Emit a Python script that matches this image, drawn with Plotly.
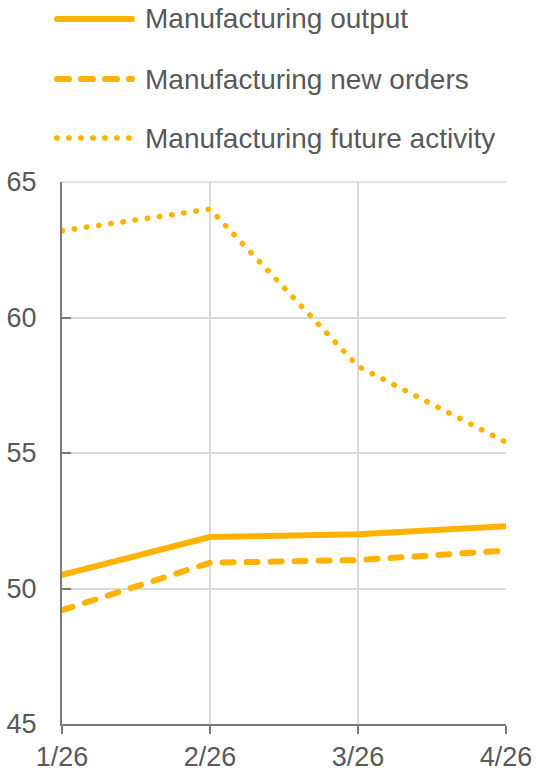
import plotly.graph_objects as go

# Monthly survey readings (index level)
months = ["1/26", "2/26", "3/26", "4/26"]
mfg_output = [50.5, 51.9, 52.0, 52.3]
mfg_new_orders = [49.2, 50.95, 51.05, 51.4]
mfg_future_activity = [63.2, 64.0, 58.2, 55.4]
series_names = [
    "Manufacturing output",
    "Manufacturing new orders",
    "Manufacturing future activity",
]
y_ticks = [45, 50, 55, 60, 65]

AMBER = "#FFB300"
TEXT = "#595959"
GRID = "#D9D9D9"
AXIS = "#7A7A7A"
FONT = "Liberation Sans, Arial, sans-serif"

W, H = 539, 771
L, R, T, B = 62, 33, 182, 47
PW, PH = W - L - R, H - T - B

styles = [
    dict(width=6, dash="solid"),
    dict(width=6, dash="11px,13px"),
    dict(width=5.5, dash="0.5px,11.8px"),
]
values = [mfg_output, mfg_new_orders, mfg_future_activity]

fig = go.Figure()
for name, vals, st in zip(series_names, values, styles):
    fig.add_trace(go.Scatter(
        x=months, y=vals, name=name, mode="lines",
        line=dict(color=AMBER, width=st["width"], dash=st["dash"]),
        showlegend=False, hoverinfo="skip",
    ))

# Legend drawn above the plot: sample line + label per series
def px_to_paper_x(px):
    return (px - L) / PW

def px_to_paper_y(py):
    return (T + PH - py) / PH

legend_rows = [19, 79, 138]
legend_samples = [
    (57, 132, dict(width=6, dash="solid")),
    (57, 132, dict(width=6, dash="12px,12px")),
    (56.7, 129.5, dict(width=5.5, dash="0.5px,11.5px")),
]
for name, row, (x0, x1, st) in zip(series_names, legend_rows, legend_samples):
    yy = px_to_paper_y(row)
    fig.add_shape(type="line", xref="paper", yref="paper",
                  x0=px_to_paper_x(x0), x1=px_to_paper_x(x1), y0=yy, y1=yy,
                  line=dict(color=AMBER, width=st["width"], dash=st["dash"]))
    fig.add_annotation(xref="paper", yref="paper", x=px_to_paper_x(143), y=yy,
                       xanchor="left", yanchor="middle", text=name, showarrow=False,
                       font=dict(size=28, color=TEXT, family=FONT))

# light frame line along the top of the plot area
fig.add_shape(type="line", xref="paper", yref="paper", x0=0, x1=1, y0=1, y1=1,
              line=dict(color=GRID, width=1.5), layer="below")

fig.update_layout(
    width=W, height=H,
    margin=dict(l=L, r=R, t=T, b=B, pad=0, autoexpand=False),
    paper_bgcolor="white", plot_bgcolor="white",
    font=dict(family=FONT, color=TEXT, size=27),
    showlegend=False,
)
fig.update_xaxes(
    type="category", range=[0, 3], automargin=False,
    showgrid=True, gridcolor=GRID, gridwidth=1.5,
    showline=True, linecolor=AXIS, linewidth=2,
    ticks="outside", ticklen=8, tickwidth=2, tickcolor=AXIS,
    tickfont=dict(size=27, color=TEXT, family=FONT),
    ticklabelstandoff=0,
)
fig.update_yaxes(
    range=[45, 65], tickvals=y_ticks, automargin=False,
    showgrid=True, gridcolor=GRID, gridwidth=1.5,
    showline=True, linecolor=AXIS, linewidth=2,
    ticks="inside", ticklen=9, tickwidth=2, tickcolor=AXIS,
    tickfont=dict(size=27, color=TEXT, family=FONT),
    ticklabelstandoff=18, zeroline=False,
)

round_caps = (
    "var s=document.createElement('style');"
    "s.textContent='.scatterlayer .js-line, .shapelayer path"
    "{stroke-linecap:round !important;stroke-linejoin:round !important;}';"
    "document.head.appendChild(s);"
)
fig.write_html("out.html", post_script=round_caps)
